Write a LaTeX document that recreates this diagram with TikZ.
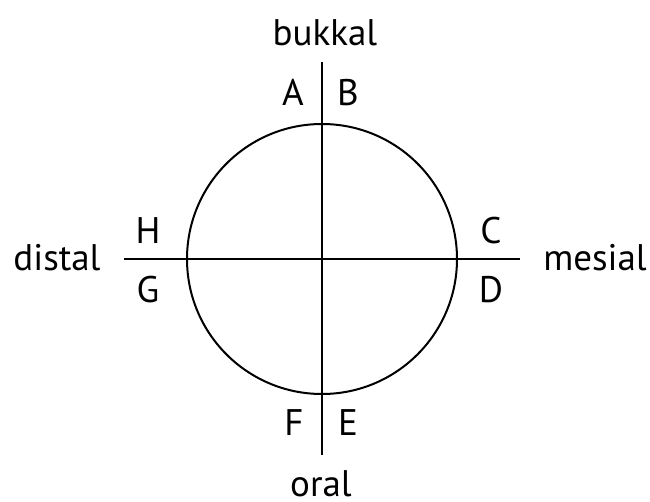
\documentclass[tikz,border=0pt]{standalone}
\usepackage{fontspec}
\setmainfont{PT Sans}
\begin{document}
\begin{tikzpicture}[x=1pt,y=-1pt,
  lbl/.style={anchor=base,inner sep=0pt,font=\fontsize{37}{40}\selectfont},
  ln/.style={line width=2pt}]
\useasboundingbox (0,0) rectangle (650,501);
\coordinate (c) at (322,259);
\draw[ln] (c) circle[radius=135];
\coordinate (vt) at (322,62);
\coordinate (vb) at (322,455);
\coordinate (hl) at (124,259);
\coordinate (hr) at (520,259);
\draw[ln] (vt) -- (vb);
\draw[ln] (hl) -- (hr);
\node[lbl] (bukkal) at (325,45) {bukkal};
\node[lbl] (oral) at (321,496) {oral};
\node[lbl] (distal) at (57,270) {distal};
\node[lbl] (mesial) at (595,270) {mesial};
\node[lbl] (A) at (293,105) {A};
\node[lbl] (B) at (348,105) {B};
\node[lbl] (H) at (148,243) {H};
\node[lbl] (G) at (148,302) {G};
\node[lbl] (C) at (491,243) {C};
\node[lbl] (D) at (491,302) {D};
\node[lbl] (F) at (294,435) {F};
\node[lbl] (E) at (348,435) {E};
\end{tikzpicture}
\end{document}
